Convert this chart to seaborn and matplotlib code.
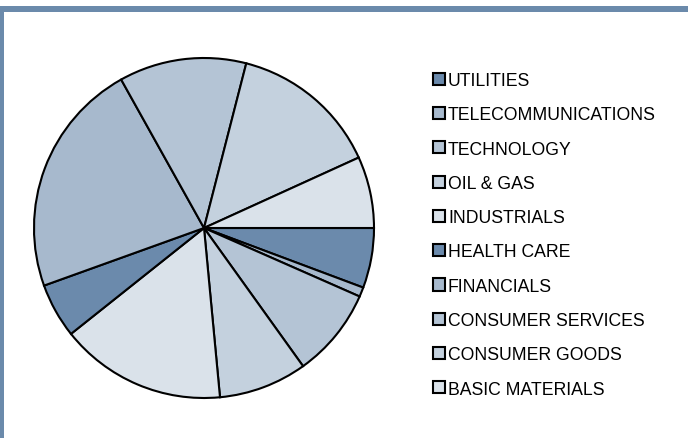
import matplotlib
matplotlib.use("Agg")
import matplotlib.pyplot as plt
import seaborn as sns
from matplotlib.patches import Rectangle

sectors = ["UTILITIES", "TELECOMMUNICATIONS", "TECHNOLOGY", "OIL & GAS",
           "INDUSTRIALS", "HEALTH CARE", "FINANCIALS", "CONSUMER SERVICES",
           "CONSUMER GOODS", "BASIC MATERIALS"]
shares = [5.7, 0.9, 8.5, 8.4, 15.8, 5.2, 22.4, 12.1, 14.2, 6.8]
base_colors = ["#6b8aac", "#a7b9cd", "#b4c4d5", "#c4d1de", "#dae2ea"]

sns.set_style("white")
plt.rcParams["font.family"] = ["Liberation Sans", "DejaVu Sans"]

W, H = 688, 439
fig = plt.figure(figsize=(W / 100, H / 100), dpi=100)
fig.patch.set_facecolor("white")

# frame bars (top and left)
frame_col = "#6b8aab"
fig.patches.append(Rectangle((0, (H - 13) / H), 1, 6 / H, transform=fig.transFigure,
                             facecolor=frame_col, edgecolor="none", zorder=0))
fig.patches.append(Rectangle((0, 0), 4 / W, (H - 7) / H, transform=fig.transFigure,
                             facecolor=frame_col, edgecolor="none", zorder=0))

cx, cy, r = 204, 229, 170
ax = fig.add_axes([(cx - r) / W, (H - cy - r) / H, 2 * r / W, 2 * r / H])
colors = sns.color_palette(base_colors * 2)
wedges, _ = ax.pie(shares, colors=colors, startangle=0, counterclock=False,
                   wedgeprops=dict(edgecolor="black", linewidth=1.5, clip_on=False))
ax.set_xlim(-1, 1)
ax.set_ylim(-1, 1)
ax.set_aspect("equal")
ax.axis("off")

leg = fig.legend(wedges, sectors, loc="upper left",
                 bbox_to_anchor=(433 / W, (H - 73) / H),
                 frameon=False, fontsize=12.7, handlelength=0.68, handleheight=0.68,
                 handletextpad=0.17, labelspacing=0.98, borderpad=0, borderaxespad=0)
for t in leg.get_texts():
    t.set_color("black")

fig.savefig("out.png", dpi=100, facecolor="white")
